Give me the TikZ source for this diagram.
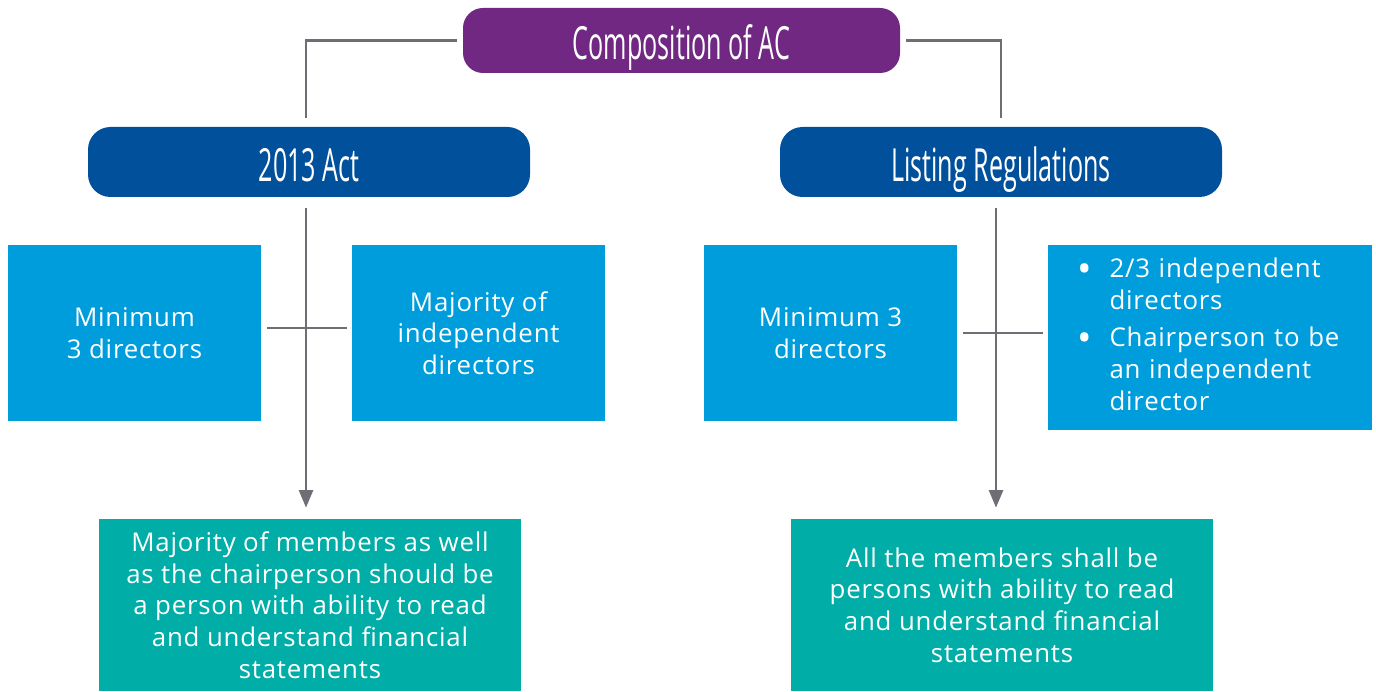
\documentclass[tikz,border=0pt]{standalone}
\usepackage{fontspec}
\setmainfont[LetterSpace=3]{Open Sans}
\newfontfamily\headfont[FakeStretch=0.55]{Open Sans}
\usepackage{tikz}
\usetikzlibrary{arrows.meta}

\definecolor{acpurple}{RGB}{112,40,130}
\definecolor{acnavy}{RGB}{0,80,155}
\definecolor{acblue}{RGB}{0,157,220}
\definecolor{acteal}{RGB}{0,173,167}
\definecolor{acline}{RGB}{110,110,116}

\newcommand{\blt}{{\fontsize{22}{18}\selectfont\raisebox{-2.8pt}{\textbullet}}}

\begin{document}
\begin{tikzpicture}[
  every node/.style={font=\fontsize{14.7}{18}\selectfont, text=white},
  head/.style={inner sep=0pt, minimum width=8.84cm, minimum height=1.4cm,
    text height=0.8cm, text depth=0pt,
    rounded corners=0.45cm, font=\headfont\fontsize{26}{30}\selectfont},
  ttl/.style={head, fill=acpurple, minimum width=8.74cm, minimum height=1.3cm,
    text height=0.78cm, rounded corners=0.4cm},
  law/.style={head, fill=acnavy},
  rulebox/.style={fill=acblue, inner sep=0pt, minimum width=5.06cm, minimum height=3.52cm, align=center},
  outcome/.style={fill=acteal, inner sep=0pt, minimum width=8.44cm, minimum height=3.44cm, align=center},
  link/.style={draw=acline, line width=1.4pt},
  arr/.style={link, -{Triangle[width=8pt,length=10pt]}}]

  \useasboundingbox (0,0) rectangle (27.52,13.82);

  % Top
  \node[ttl] (ac) at (13.63, 13.01) {Composition of AC};

  % Two sources
  \node[law] (act) at (6.18, 10.58) {2013 Act};
  \node[law] (lr) at (20.02, 10.58) {Listing Regulations};
  \coordinate (actin) at (6.12, 11.46);
  \coordinate (lrin) at (20.02, 11.46);

  % 2013 Act requirements
  \node[rulebox] (min1) at (2.69, 7.16) {Minimum\\3 directors};
  \node[rulebox] (maj1) at (9.57, 7.16) {Majority of\\independent\\directors};
  \node[outcome] (fin1) at (6.20, 1.72)
    {Majority of members as well\\as the chairperson should be\\a person with ability to read\\and understand financial\\statements};
  \coordinate (actout) at (6.12, 9.66);

  % Listing Regulations requirements
  \node[rulebox] (min2) at (16.61, 7.16) {Minimum 3\\directors};
  \node[rulebox, minimum width=6.48cm, minimum height=3.70cm, inner xsep=0.58cm,
        text width=5.32cm, align=left] (ind2) at (24.20, 7.07)
    {\begin{tabular}{@{}l@{\hspace{0.36cm}}l@{}}
      \blt & 2/3 independent\\
           & directors\\[0.12cm]
      \blt & Chairperson to be\\
           & an independent\\
           & director
    \end{tabular}};
  \node[outcome] (fin2) at (20.04, 1.72)
    {All the members shall be\\persons with ability to read\\and understand financial\\statements};
  \coordinate (lrout) at (19.92, 9.66);

  % Edges
  \draw[link, shorten <=0.12cm] (ac.west) -| (actin);
  \draw[link, shorten <=0.12cm] (ac.east) -| (lrin);

  \draw[arr, shorten >=0.22cm] (actout) -- (actout |- fin1.north);
  \draw[link, shorten <=0.12cm, shorten >=0.1cm] ([yshift=0.1cm]min1.east) -- ([yshift=0.1cm]maj1.west);

  \draw[arr, shorten >=0.22cm] (lrout) -- (lrout |- fin2.north);
  \draw[link, shorten <=0.12cm, shorten >=0.1cm] (min2.east) -- (min2.east -| ind2.west);

\end{tikzpicture}
\end{document}
